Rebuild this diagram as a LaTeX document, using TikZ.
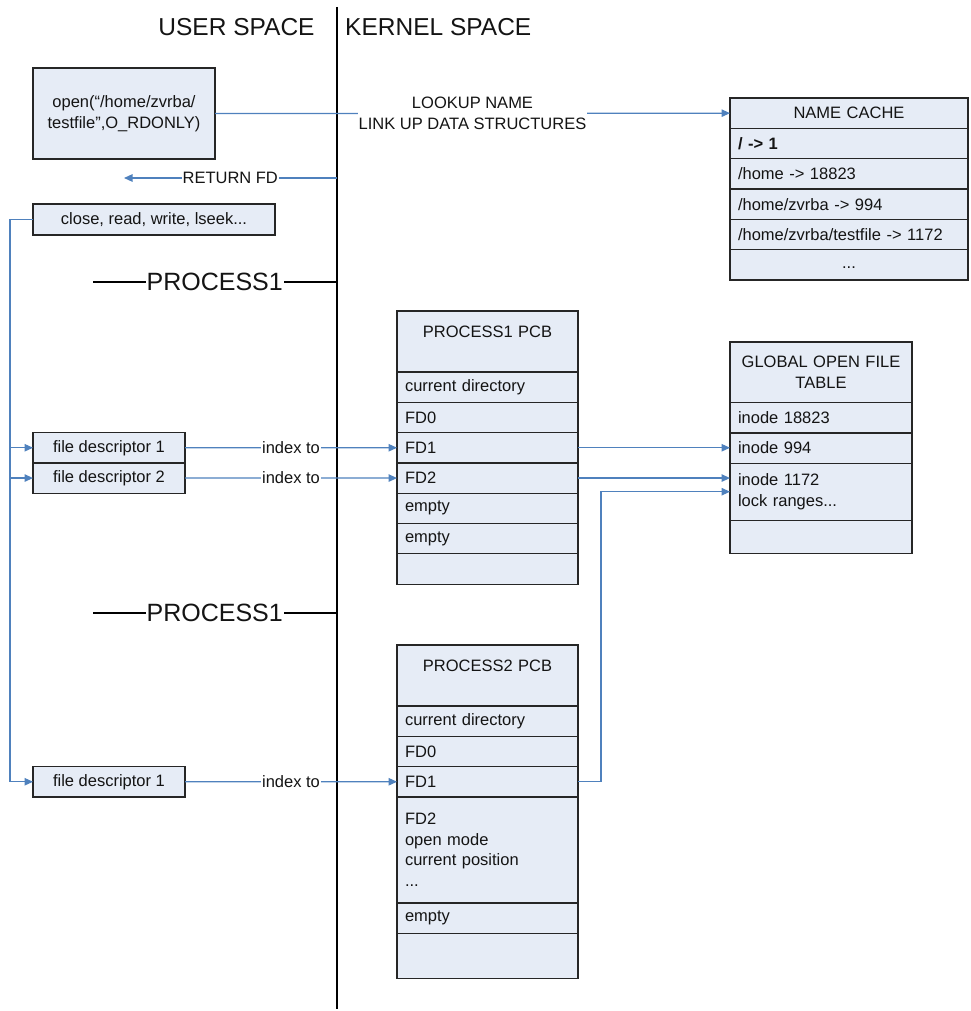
\documentclass[tikz,border=0pt]{standalone}
\usepackage{fontspec}
\setmainfont{Liberation Sans}
\usetikzlibrary{arrows.meta}
\definecolor{cellfill}{HTML}{E6ECF6}
\definecolor{cellline}{HTML}{262626}
\definecolor{linkblue}{HTML}{4F81BD}
\definecolor{ink}{HTML}{141414}
\newcommand{\bodysize}{\fontsize{16.5}{20.5}\selectfont}
\newcommand{\titlesize}{\fontsize{24.5}{29}\selectfont}

\begin{document}
\begin{tikzpicture}[x=1pt,y=-1pt,
  every node/.style={text=ink},
  base/.style={draw=cellline, fill=cellfill, line width=1.2pt, outer sep=0pt,
    anchor=north west, inner ysep=0pt, inner xsep=8pt, font=\bodysize},
  pcbrow/.style={base, minimum width=181pt, text width=165pt, align=left, minimum height=#1},
  pcbrow/.default=30.3pt,
  pcbhead/.style={base, minimum width=181pt, text width=165pt, align=center, minimum height=61pt},
  grow/.style={base, minimum width=182pt, text width=166pt, align=left, minimum height=#1},
  grow/.default=30.3pt,
  ghead/.style={base, minimum width=182pt, text width=166pt, align=center, minimum height=60.6pt},
  crow/.style={base, minimum width=238pt, text width=222pt, align=left, minimum height=30.33pt},
  chead/.style={crow, align=center},
  ubox/.style={base, align=center, inner xsep=2pt},
  link/.style={draw=linkblue, line width=1.2pt, -{Triangle[length=8.5pt,width=7.5pt]}},
  tag/.style={fill=white, inner xsep=1pt, inner ysep=0pt, align=center, font=\bodysize},
  divider/.style={draw=black, line width=2pt},
  sepline/.style={draw=black, line width=1.3pt},
  proc/.style={fill=white, inner xsep=1pt, inner ysep=0pt, font=\fontsize{25}{30}\selectfont},
  spacelabel/.style={inner sep=0pt, font=\titlesize}
]
\useasboundingbox (0,0) rectangle (970,1011);

% user / kernel split
\node[spacelabel] (us) at (236.5,27) {USER SPACE};
\node[spacelabel, anchor=west] (ks) at (345,27) {KERNEL SPACE};
\coordinate (divtop) at (336.5,7);
\coordinate (divbot) at (336.5,1009);
\draw[divider] (divtop) -- (divbot);

% user-space calls
\node[ubox, minimum width=182pt, minimum height=91pt] (openc) at (33,68)
  {open(“/home/zvrba/\\testfile”,O\_RDONLY)};
\node[ubox, minimum width=242pt, minimum height=31pt] (closec) at (33,204)
  {close, read, write, lseek...};

% name cache
\node[chead] (nc0) at (730,98) {NAME CACHE};
\node[crow, font=\bodysize\bfseries] (nc1) at (nc0.south west) {/ -> 1};
\node[crow] (nc2) at (nc1.south west) {/home -> 18823};
\node[crow] (nc3) at (nc2.south west) {/home/zvrba -> 994};
\node[crow] (nc4) at (nc3.south west) {/home/zvrba/testfile -> 1172};
\node[chead] (nc5) at (nc4.south west) {\vphantom{Ag}...};

% process separators
\coordinate (s1a) at (93,282);
\coordinate (s1b) at (336.5,282);
\draw[sepline] (s1a) -- node[proc] (pl1) {PROCESS1} (s1b);
\coordinate (s2a) at (93,613);
\coordinate (s2b) at (336.5,613);
\draw[sepline] (s2a) -- node[proc] (pl2) {PROCESS1} (s2b);

% process 1 control block
\node[pcbhead] (p1h) at (397,311) {PROCESS1 PCB\\\mbox{}};
\node[pcbrow] (p1cd) at (p1h.south west) {current directory};
\node[pcbrow] (p1fd0) at (p1cd.south west) {FD0};
\node[pcbrow] (p1fd1) at (p1fd0.south west) {FD1};
\node[pcbrow] (p1fd2) at (p1fd1.south west) {FD2};
\node[pcbrow] (p1e1) at (p1fd2.south west) {empty};
\node[pcbrow] (p1e2) at (p1e1.south west) {empty};
\node[pcbrow] (p1x) at (p1e2.south west) {};

% global open file table
\node[ghead] (gh) at (730,342) {GLOBAL OPEN FILE\\TABLE};
\node[grow] (g18823) at (gh.south west) {inode 18823};
\node[grow] (g994) at (g18823.south west) {inode 994};
\node[grow=57pt] (g1172) at (g994.south west) {inode 1172\\lock ranges...};
\node[grow=33pt] (gx) at (g1172.south west) {};

% process 2 control block
\node[pcbhead] (p2h) at (397,645) {PROCESS2 PCB\\\mbox{}};
\node[pcbrow] (p2cd) at (p2h.south west) {current directory};
\node[pcbrow] (p2fd0) at (p2cd.south west) {FD0};
\node[pcbrow] (p2fd1) at (p2fd0.south west) {FD1};
\node[pcbrow=106pt] (p2fd2) at (p2fd1.south west) {FD2\\open mode\\current position\\...};
\node[pcbrow] (p2e1) at (p2fd2.south west) {empty};
\node[pcbrow=45pt] (p2x) at (p2e1.south west) {};

% user-space descriptors
\node[ubox, minimum width=152pt, minimum height=30.3pt] (fd1) at (33,432.6) {file descriptor 1};
\node[ubox, minimum width=152pt, minimum height=30.3pt] (fd2) at (fd1.south west) {file descriptor 2};
\node[ubox, minimum width=152pt, minimum height=30.3pt] (fd3) at (33,766.6) {file descriptor 1};

% connectors
\draw[link] (openc.east) -- node[tag] (lk) {LOOKUP NAME\\LINK UP DATA STRUCTURES} (nc0.west);
\coordinate (rfs) at (336.5,178);
\coordinate (rfe) at (124,178);
\draw[link] (rfs) -- node[tag] (rf) {RETURN FD} (rfe);

\coordinate (bus) at (10,781.75);
\draw[link] (closec.west) -| (bus) -- (fd3.west);
\draw[link] (bus |- fd1.west) -- (fd1.west);
\draw[link] (bus |- fd2.west) -- (fd2.west);

\draw[link] (fd1.east) -- node[tag] (ix1) {index to} (p1fd1.west);
\draw[link] (fd2.east) -- node[tag] (ix2) {index to} (p1fd2.west);
\draw[link] (fd3.east) -- node[tag] (ix3) {index to} (p2fd1.west);

\draw[link] (p1fd1.east) -- (p1fd1.east -| g994.west);
\draw[link] (p1fd2.east) -- (p1fd2.east -| g1172.west);
\draw[link] (p2fd1.east) -- ++(23,0) |- (g1172.west);
\end{tikzpicture}
\end{document}
